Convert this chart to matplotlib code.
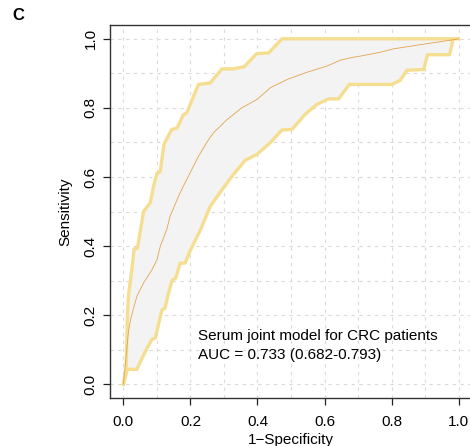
import numpy as np
import matplotlib
matplotlib.use("Agg")
import matplotlib.pyplot as plt

plt.rcParams['font.family'] = ['Liberation Sans', 'DejaVu Sans']

# ── Data ──────────────────────────────────────────────────────────────────────
# ROC curve (1-specificity, sensitivity)
roc_x = [0.0, 0.010, 0.015, 0.022, 0.040, 0.060, 0.085, 0.100, 0.110, 0.130, 0.139,
         0.169, 0.199, 0.224, 0.254, 0.269, 0.289, 0.309, 0.353, 0.398, 0.438,
         0.488, 0.547, 0.607, 0.647, 0.677, 0.707, 0.766, 0.806, 0.886, 0.975, 1.0]
roc_y = [0.0, 0.100, 0.152, 0.190, 0.254, 0.293, 0.331, 0.360, 0.399, 0.450, 0.486,
         0.554, 0.612, 0.660, 0.708, 0.728, 0.747, 0.766, 0.800, 0.824, 0.858,
         0.882, 0.903, 0.921, 0.938, 0.945, 0.950, 0.961, 0.971, 0.983, 0.996, 1.0]

# upper confidence bound
up_x = [0.0, 0.008, 0.012, 0.015, 0.025, 0.032, 0.042, 0.060, 0.080, 0.090,
        0.100, 0.110, 0.121, 0.144, 0.160, 0.179, 0.189, 0.224, 0.259, 0.294,
        0.328, 0.360, 0.398, 0.433, 0.473, 1.0]
up_y = [0.0, 0.042, 0.200, 0.254, 0.331, 0.392, 0.394, 0.500, 0.525, 0.573,
        0.610, 0.616, 0.695, 0.737, 0.742, 0.780, 0.786, 0.868, 0.872, 0.913,
        0.913, 0.919, 0.957, 0.959, 1.0, 1.0]

# lower confidence bound
lo_x = [0.0, 0.012, 0.040, 0.065, 0.085, 0.095, 0.115, 0.124, 0.134, 0.146,
        0.156, 0.169, 0.184, 0.199, 0.229, 0.259, 0.289, 0.324, 0.363, 0.398,
        0.438, 0.473, 0.503, 0.542, 0.577, 0.612, 0.642, 0.674, 0.801, 0.826,
        0.846, 0.896, 0.907, 0.973, 0.983, 0.985]
lo_y = [0.0, 0.043, 0.043, 0.094, 0.130, 0.133, 0.215, 0.220, 0.262, 0.302,
        0.307, 0.350, 0.351, 0.386, 0.445, 0.515, 0.556, 0.602, 0.648, 0.665,
        0.699, 0.736, 0.738, 0.781, 0.810, 0.826, 0.826, 0.868, 0.868, 0.880,
        0.909, 0.911, 0.954, 0.954, 0.996, 1.0]

label_line1 = "Serum joint model for CRC patients"
label_line2 = "AUC = 0.733 (0.682-0.793)"

yellow = '#F5DE90'
orange = '#E3A44E'

# ── Figure ────────────────────────────────────────────────────────────────────
fig = plt.figure(figsize=(4.70, 4.46), dpi=100)
ax = fig.add_axes([110 / 470, (446 - 398) / 446, 362 / 470, 373 / 446])

# grey band between the CI bounds
grid_x = np.union1d(up_x, lo_x)
ax.fill_between(grid_x, np.interp(grid_x, lo_x, lo_y), np.interp(grid_x, up_x, up_y),
                color='#F3F3F3', lw=0, zorder=1)

# dashed grid
for v in np.arange(0, 1.01, 0.1):
    ax.axvline(v, color='#DADADA', lw=0.8, ls=(0, (3, 4)), zorder=0.5)
    ax.axhline(v, color='#DADADA', lw=0.8, ls=(0, (3, 4)), zorder=0.5)

ax.plot(up_x, up_y, color=yellow, lw=2.4, solid_joinstyle='round', zorder=2)
ax.plot(lo_x, lo_y, color=yellow, lw=2.4, solid_joinstyle='round', zorder=2)
ax.plot(roc_x, roc_y, color=orange, lw=0.6, zorder=3)

ax.set_xlim(-0.04, 1.04)
ax.set_ylim(-0.04, 1.04)
ticks = [0.0, 0.2, 0.4, 0.6, 0.8, 1.0]
ax.set_xticks(ticks)
ax.set_yticks(ticks)
ax.set_xticklabels([f"{t:.1f}" for t in ticks], fontsize=11)
ax.set_yticklabels([f"{t:.1f}" for t in ticks], fontsize=11, rotation=90, va='center')
ax.tick_params(length=5, width=0.9, color='#222222')
ax.tick_params(axis='x', pad=7)
ax.tick_params(axis='y', pad=4)
ax.set_xlabel("1\u2212Specificity", fontsize=11, labelpad=3)
ax.set_ylabel("Sensitivity", fontsize=11, labelpad=8)

for s in ax.spines.values():
    s.set_color('#333333')
    s.set_linewidth(1.0)

ax.text(0.224, 0.14, label_line1, fontsize=11, va='center', ha='left', zorder=4)
ax.text(0.224, 0.085, label_line2, fontsize=11, va='center', ha='left', zorder=4)

fig.text(12 / 470, 1 - 16 / 446, "C", fontsize=12, fontweight='bold', va='center', ha='left')

fig.savefig('out.png', dpi=100)
